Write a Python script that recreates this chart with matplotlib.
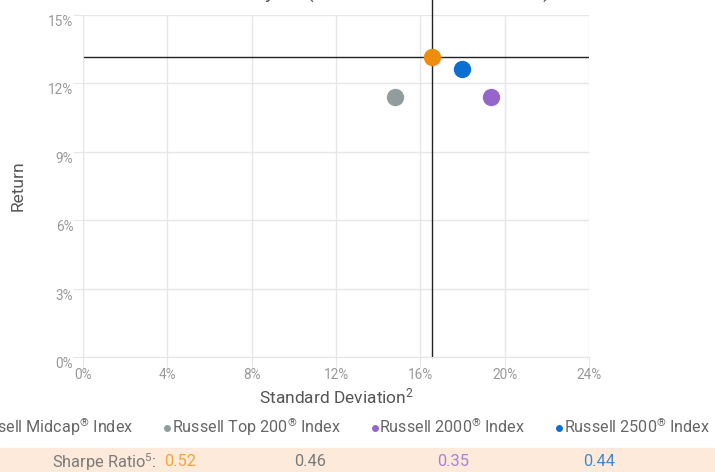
import numpy as np
import matplotlib
matplotlib.use("Agg")
import matplotlib.pyplot as plt
from matplotlib.lines import Line2D
from matplotlib.patches import Rectangle

plt.rcParams['font.family'] = ['Roboto', 'DejaVu Sans']
plt.rcParams['mathtext.fontset'] = 'custom'
plt.rcParams['mathtext.rm'] = 'Roboto'
plt.rcParams['mathtext.it'] = 'Roboto'
plt.rcParams['mathtext.bf'] = 'Roboto'

# data
names = ['Russell Midcap$^{®}$ Index', 'Russell Top 200$^{®}$ Index',
         'Russell 2000$^{®}$ Index', 'Russell 2500$^{®}$ Index']
std_dev = [16.54, 14.81, 19.34, 17.96]
returns = [13.15, 11.38, 11.38, 12.60]
sharpe = ['0.52', '0.46', '0.35', '0.44']
colors = ['#EE8C0E', '#939C9C', '#9466CC', '#0A6FD2']
sharpe_colors = ['#F3A43A', '#7A7A7A', '#A284D6', '#3F88D4']

x_ticks = [0, 4, 8, 12, 16, 20, 24]
y_ticks = [0, 3, 6, 9, 12, 15]

fig = plt.figure(figsize=(7.15, 4.72), dpi=100)
ax = fig.add_axes([0.1161, 0.2436, 0.7077, 0.7256])

ax.set_xlim(0, 24)
ax.set_ylim(0, 15)
ax.set_xticks(x_ticks)
ax.set_yticks(y_ticks)
ax.set_xticklabels([f'{t}%' for t in x_ticks])
ax.set_yticklabels([f'{t}%' for t in y_ticks])
ax.grid(True, color='#e6e6e6', lw=1)
ax.set_axisbelow(True)
for s in ax.spines.values():
    s.set_visible(False)
ax.spines['left'].set_visible(True)
ax.spines['left'].set_color('#e6e6e6')
ax.spines['bottom'].set_visible(True)
ax.spines['bottom'].set_color('#e6e6e6')
ax.tick_params(axis='both', length=7, color='#e6e6e6', labelcolor='#999999', labelsize=9.8)
ax.tick_params(axis='x', pad=1)
ax.tick_params(axis='y', pad=0)
for lab in ax.get_yticklabels():
    lab.set_verticalalignment('top')

# crosshair on the midcap point
ax.axvline(std_dev[0], ymin=0, ymax=1.2, color='#222222', lw=1, clip_on=False, zorder=2)
ax.axhline(returns[0], color='#222222', lw=1, zorder=2)

for x, y, c in zip(std_dev, returns, colors):
    ax.plot(x, y, 'o', ms=12.5, color=c, mec='none', zorder=3)

ax.set_xlabel('Standard Deviation$^{2}$', fontsize=12.5, color='#555555', labelpad=3)
ax.set_ylabel('Return', fontsize=12.5, color='#555555', labelpad=16)

# title is cut off at the top of the image, only descenders show
ax.text(0.5, 1.046, 'Risk / Return 10 year (Annualized Return vs. Risk)',
        transform=ax.transAxes, ha='center', va='baseline', fontsize=14, color='#555555')

handles = [Line2D([], [], ls='none', marker='o', ms=5, color=c, mec='none') for c in colors]
leg = ax.legend(handles, names, loc='center', bbox_to_anchor=(0.5, -0.205), ncol=4,
                frameon=False, handlelength=0.4, handletextpad=0.1, columnspacing=1.9,
                fontsize=11.6, labelcolor='#666666')

# sharpe ratio band
fig.patches.append(Rectangle((0, 0), 1, 24 / 472, transform=fig.transFigure,
                             color='#FDEADA', zorder=0))
fig.text(157 / 715, 10 / 472, 'Sharpe Ratio$^{5}$:', ha='right', va='center',
         fontsize=11.8, color='#7A7A7A')
sharpe_x = [180, 310, 453, 599]
for sx, v, c in zip(sharpe_x, sharpe, sharpe_colors):
    fig.text(sx / 715, 10 / 472, v, ha='center', va='center', fontsize=11.8, color=c)

fig.savefig('out.png', dpi=100)
